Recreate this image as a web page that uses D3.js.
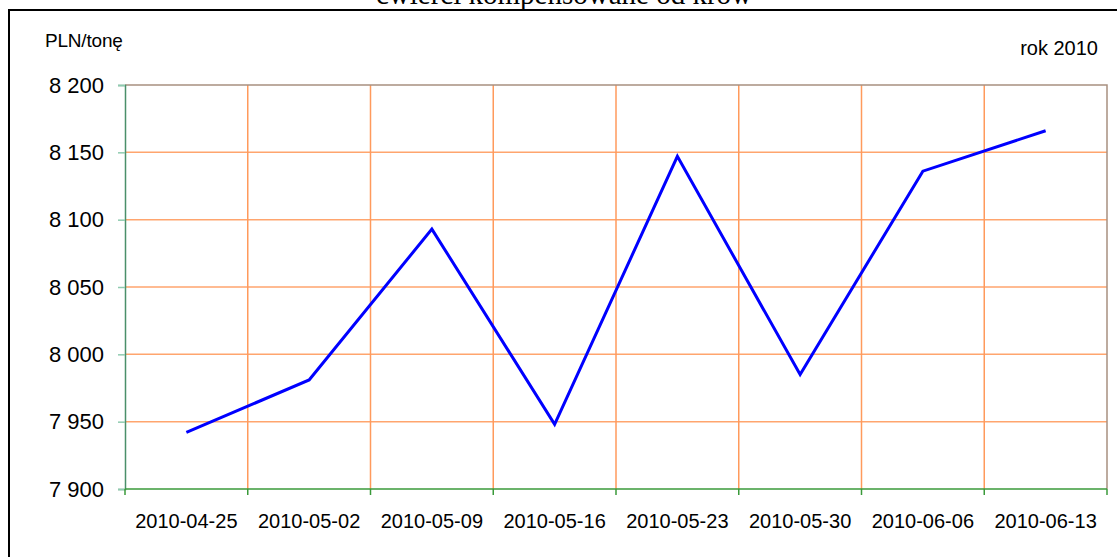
<!DOCTYPE html>
<html>
<head>
<meta charset="utf-8">
<script src="https://cdn.jsdelivr.net/npm/d3@7"></script>
<style>
  html, body { margin: 0; padding: 0; background: #fff; }
  svg { display: block; }
</style>
</head>
<body>
<svg width="1117" height="557"></svg>
<script>
const weeks = ['2010-04-25', '2010-05-02', '2010-05-09', '2010-05-16',
  '2010-05-23', '2010-05-30', '2010-06-06', '2010-06-13'];
const prices = [7942, 7981, 8093, 7948, 8147, 7985, 8136, 8166];
const yTicks = [7900, 7950, 8000, 8050, 8100, 8150, 8200];

const margin = { top: 85, right: 10, bottom: 68, left: 125 };
const width = 1117;
const height = 557;

const svg = d3.select('svg');

const xScale = d3.scaleBand(weeks, [margin.left, width - margin.right]);
const yScale = d3.scaleLinear([7900, 8200], [height - margin.bottom, margin.top]);
const fmt = (v) => d3.format(',')(v).replace(',', ' ');

// outer frame (only top & left edges visible)
svg.append('path')
  .attr('d', `M9,${height} V10 H${width}`)
  .attr('fill', 'none')
  .attr('stroke', '#000')
  .attr('stroke-width', 2);

// title, mostly cut off at the top
svg.append('text')
  .text('ćwierci kompensowane od krów')
  .attr('x', 564)
  .attr('y', 4)
  .attr('text-anchor', 'middle')
  .style('font-family', '"Liberation Serif", "Times New Roman", serif')
  .style('font-size', '29px');

svg.append('text')
  .text('PLN/tonę')
  .attr('x', 45)
  .attr('y', 47)
  .style('font-family', '"Liberation Sans", Arial, sans-serif')
  .style('font-size', '19px')
  .style('letter-spacing', '-0.2px');

svg.append('text')
  .text('rok 2010')
  .attr('x', 1098)
  .attr('y', 55)
  .attr('text-anchor', 'end')
  .style('font-family', '"Liberation Sans", Arial, sans-serif')
  .style('font-size', '20px');

// horizontal gridlines
svg.append('g')
  .selectAll('line')
  .data(yTicks.slice(1, -1))
  .join('line')
    .attr('x1', margin.left)
    .attr('x2', width - margin.right)
    .attr('y1', (d) => yScale(d))
    .attr('y2', (d) => yScale(d))
    .attr('stroke', '#ffa56e')
    .attr('stroke-width', 1.5);

// vertical gridlines at category boundaries
const bounds = weeks.map((d) => xScale(d)).concat([xScale.range()[1]]);
svg.append('g')
  .selectAll('line')
  .data(bounds.slice(1, -1))
  .join('line')
    .attr('x1', (d) => d)
    .attr('x2', (d) => d)
    .attr('y1', margin.top)
    .attr('y2', height - margin.bottom)
    .attr('stroke', '#ff9a5c')
    .attr('stroke-width', 1.5);

// plot frame top & right
svg.append('path')
  .attr('d', `M${margin.left},${yScale(8200)} H${xScale.range()[1]} V${yScale(7900)}`)
  .attr('fill', 'none')
  .attr('stroke', '#a89080')
  .attr('stroke-width', 1.5);

// y axis
const yAxis = d3.axisLeft(yScale)
  .tickValues(yTicks)
  .tickSize(7)
  .tickPadding(14)
  .tickFormat(fmt);

const yG = svg.append('g')
  .attr('transform', `translate(${margin.left}, 0)`)
  .call(yAxis);
yG.select('.domain').attr('stroke', '#4a8f6a').attr('stroke-width', 1.5);
yG.selectAll('.tick line').attr('stroke', '#8fcbb0').attr('stroke-width', 1.5);
yG.selectAll('text')
  .style('font-family', '"Liberation Sans", Arial, sans-serif')
  .style('font-size', '22px')
  .attr('fill', '#000');

// x axis
const xG = svg.append('g')
  .attr('transform', `translate(0, ${height - margin.bottom})`);
xG.append('line')
  .attr('x1', margin.left)
  .attr('x2', xScale.range()[1])
  .attr('stroke', '#3a9a3a')
  .attr('stroke-width', 1.5);
xG.selectAll('.tk')
  .data(bounds)
  .join('line')
    .attr('class', 'tk')
    .attr('x1', (d) => d)
    .attr('x2', (d) => d)
    .attr('y1', 0)
    .attr('y2', 6)
    .attr('stroke', '#3a9a3a')
    .attr('stroke-width', 1.5);
xG.selectAll('text')
  .data(weeks)
  .join('text')
    .text((d) => d)
    .attr('x', (d) => xScale(d) + xScale.bandwidth() / 2)
    .attr('y', 39)
    .attr('text-anchor', 'middle')
    .style('font-family', '"Liberation Sans", Arial, sans-serif')
    .style('font-size', '20px');

// price line
const priceLine = d3.line()
  .x((d, i) => xScale(weeks[i]) + xScale.bandwidth() / 2)
  .y((d) => yScale(d));

svg.append('path')
  .attr('d', priceLine(prices))
  .attr('fill', 'none')
  .attr('stroke', '#0000ff')
  .attr('stroke-width', 3);
</script>
</body>
</html>
